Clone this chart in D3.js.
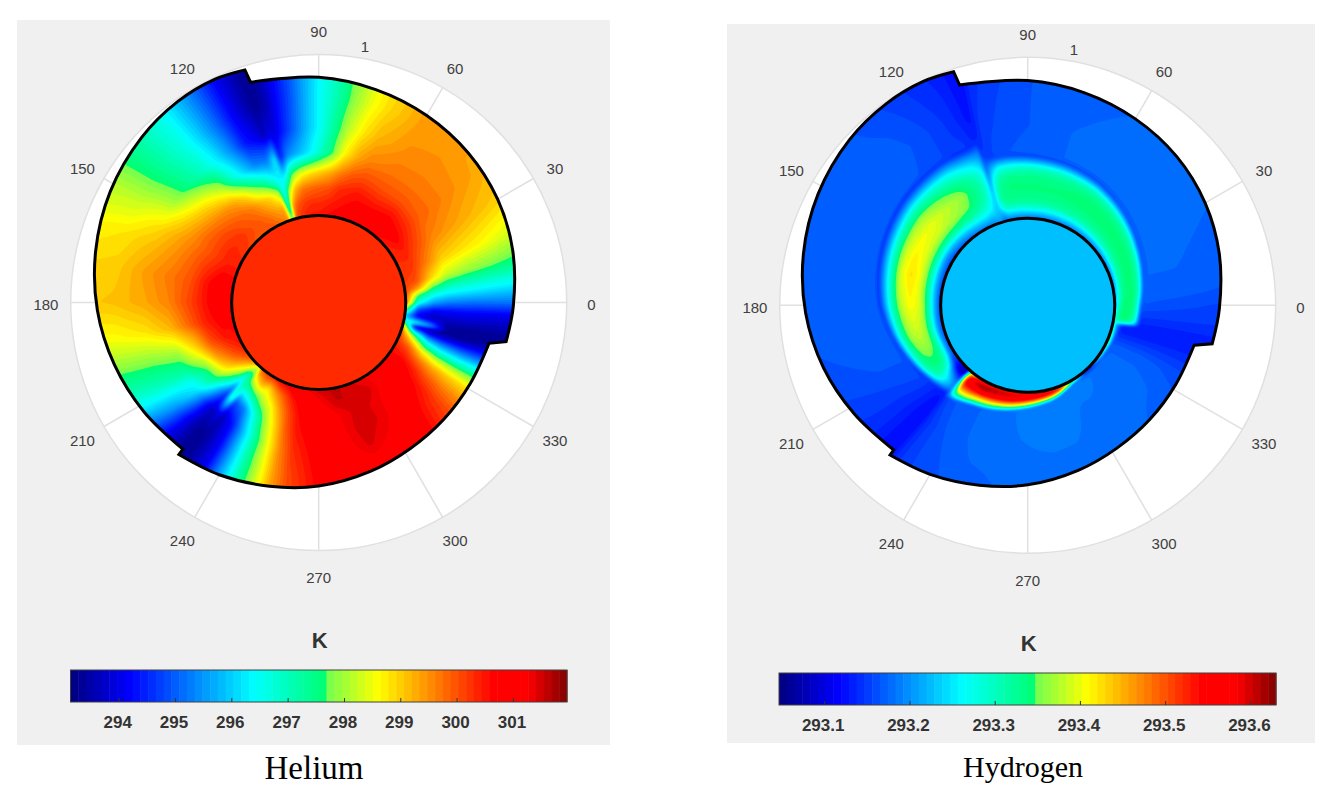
<!DOCTYPE html>
<html lang="en">
<head>
<meta charset="utf-8">
<title>Helium / Hydrogen temperature</title>
<style>
  html, body { margin: 0; background: #fff; }
  svg { display: block; }
  text { font-family: "Liberation Sans", Arial, sans-serif; }
</style>
</head>
<body>
<div id="chart"></div>
<script src="https://d3js.org/d3.v7.min.js"></script>
<script>
////////////////////////////////////////////////// DATA
// radius is in units of the polar axis (outer circle = 1), angles in degrees
var angleTicks = [0, 30, 60, 90, 120, 150, 180, 210, 240, 270, 300, 330];
var discRadius = 0.351;

// jet-like colormap of the colorbar, as seen in the picture
var mapStops = [0, 0.12, 0.37, 0.515, 0.5151, 0.62, 0.85, 0.92, 1];
var mapColors = ["#00007f", "#0000ff", "#00ffff", "#00ff70", "#70ff50", "#ffff00", "#ff0000", "#ff0000", "#7f0000"];

// outline of the domain, one list per 120 degree sector (A, B, C)
var heliumEdgeA = [[107.2,.93],[90,.908],[75,.889],[60,.871],[45,.853],[30,.833],[15,.81],[-1,.785],[-11.8,.772]];
var heliumEdgeB = [[-13.5,.706],[-28,.693],[-43,.69],[-58,.695],[-73,.712],[-90,.74],[-105,.767],[-120,.802],[-132.6,.833]];
var heliumEdgeC = [[227.2,.806],[212,.831],[197,.861],[182,.893],[167,.923],[152,.952],[137,.976],[125,.990],[115,.993],[107.6,.984]];

var hydrogenEdgeA = [[107.2,.93],[90,.906],[75,.887],[60,.868],[45,.849],[30,.826],[15,.80],[-1,.773],[-11.8,.76]];
var hydrogenEdgeB = [[-13.5,.69],[-28,.677],[-43,.674],[-58,.679],[-73,.696],[-90,.724],[-105,.751],[-120,.787],[-132.6,.82]];
var hydrogenEdgeC = [[227.2,.795],[212,.825],[197,.861],[182,.896],[167,.928],[152,.957],[137,.981],[125,.993],[115,.996],[107.6,.988]];

// inner ring seen in the hydrogen field
var ringAngles = [227,215,200,180,160,140,120,108,107,90,75,60,45,30,15,0,-11,-12,-30,-45,-60,-75,-90,-105,-120,-132];
var ringRadii = [.480,.504,.544,.597,.629,.657,.673,.673,.617,.605,.593,.573,.544,.512,.484,.460,.452,.387,.371,.367,.367,.40,.415,.44,.464,.496];

// Helium temperature (K): rows = heliumAngles, columns = heliumRadii
var heliumRadii = [.351,.403,.464,.524,.605,.706,.827,1.01];
var heliumTicks = [294,295,296,297,298,299,300,301];
var heliumRange = [293.145,301.96];
var heliumDisc = 300.3;
var heliumAngles = [227,225,222,219,216,212,208,204,200,195,190,180,170,160,155,150,145,140,135,130,125,120,115,110,108,
  107,105,102,98,94,90,85,80,75,70,60,50,40,30,20,12,8,4,0,-4,-8,-11,
  -12,-14,-16,-19,-22,-26,-30,-35,-40,-50,-60,-70,-80,-90,-100,-105,-110,-115,-120,-125,-130,-132];
var heliumValues = [
  [298.5,297.3,296.8,296.5,293.8,293.3,293.3,293.3],
  [299.2,297.2,295.8,294.6,293.7,293.5,293.5,293.5],
  [299.6,298.4,297,295.6,294.4,294,293.9,293.9],
  [300,299,297.9,296.6,295.4,294.8,294.5,294.4],
  [300.2,299.5,298.6,297.4,296.2,295.6,295.2,295.2],
  [300.4,299.9,299,297.6,296.5,296.3,296.1,296],
  [300.5,300.1,299.4,298,297.2,297,296.8,296.7],
  [300.6,300.3,299.7,298.6,297.6,297.4,297.3,297.2],
  [300.6,300.5,300,299,298,297.8,297.7,297.6],
  [300.6,300.6,300.2,299.4,298.6,298.3,298.2,298.1],
  [300.7,300.7,300.4,299.9,299.2,298.8,298.6,298.5],
  [300.8,300.9,300.5,300.1,299.6,299.3,299.1,299],
  [300.7,300.9,300.5,300,299.7,299.4,299,298.9],
  [300.5,300.5,300.2,299.9,299.5,299.1,298.8,298.6],
  [300.4,300.4,300.1,299.8,299.4,298.9,298.5,298.3],
  [300.3,300.4,300.1,299.8,299.2,298.5,298.2,298.1],
  [300.2,300.3,300.1,299.7,299,298,297.8,297.7],
  [300.1,300.3,300,299.6,298.8,297.6,297.4,297.3],
  [300,300.1,299.9,299.5,298.5,297.2,297,296.9],
  [300,300,299.8,299.3,298,296.8,296.6,296.5],
  [300,299.9,299.6,298.8,296.9,296.2,295.9,295.8],
  [300,299.7,299.2,298,296.1,295.4,295.1,295],
  [299.8,299.4,298.9,297.4,295.4,294.4,294.2,294.1],
  [299.6,299.3,298.2,296.6,295.3,294,293.5,293.4],
  [298,297.2,296.6,296.3,296,293.6,293.3,293.3],
  [297,296.8,296.5,296.3,296.2,294,293.4,293.3],
  [300,299.4,298,296.3,294.4,293.9,293.6,293.5],
  [300.2,300,299.2,297.8,295.4,294.4,294.2,294.1],
  [300.4,300.2,299.7,298.5,295.8,295.1,294.9,294.8],
  [300.5,300.3,299.8,298.8,296.2,295.8,295.7,295.6],
  [300.5,300.3,299.9,299,296.8,296.4,296.4,296.3],
  [300.6,300.4,300,299.3,297.6,297.3,297.1,297],
  [300.7,300.5,300.3,299.7,298.7,298.2,297.9,297.8],
  [300.8,300.6,300.4,300,299.3,298.8,298.5,298.4],
  [300.6,300.7,300.5,300.1,299.6,299.2,298.9,298.8],
  [300.6,300.8,300.4,300,299.7,299.5,299.4,299.4],
  [300.6,300.9,300.5,300,299.7,299.55,299.4,299.4],
  [300.4,300.7,300.3,299.9,299.7,299.5,299.3,299.2],
  [300.3,300.4,300,299.6,299.4,299.2,299,298.9],
  [300.3,300.2,299.6,299,298.8,298.6,298.3,298.2],
  [300.2,300,298.9,298.2,297.9,297.7,297.5,297.4],
  [300.2,299.4,297.8,297.2,297,296.9,296.8,296.7],
  [300,297.6,296.6,296.3,296.2,296.1,296,296],
  [299.8,296.6,295.6,295.3,295.2,295.2,295.2,295.1],
  [298,294.8,294.2,294.2,294.2,294.1,294.1,294.1],
  [296,294,293.6,293.7,293.7,293.6,293.6,293.6],
  [296.4,296,295,293.4,293.3,293.3,293.4,293.5],
  [297,296.5,295.5,293.5,293.3,293.4,293.4,293.4],
  [298.5,293.8,293.4,293.3,293.3,293.4,293.6,293.6],
  [299.5,295.5,294.2,293.9,293.8,293.9,294,294],
  [300,297.8,295.8,295.3,295,294.9,294.9,294.9],
  [300.2,298.9,297.2,296.5,296.2,296.1,296,296],
  [300.3,299.9,298.8,298.2,297.9,297.7,297.6,297.6],
  [300.5,300.3,299.7,299.3,299,298.8,298.7,298.7],
  [300.6,300.7,300.4,300,299.7,299.5,299.4,299.4],
  [300.7,301,300.7,300.5,300.2,300,299.9,299.9],
  [301,301.1,301.05,300.95,300.8,300.7,300.6,300.6],
  [301.3,301.45,301.35,301.35,301.2,300.95,300.8,300.8],
  [301.45,301.55,301.5,301.55,301.45,301.05,300.9,300.9],
  [301.6,301.55,301.25,301.2,301.1,300.9,300.8,300.8],
  [301.5,301.2,300.9,300.9,300.8,300.7,300.7,300.7],
  [301.2,300.8,300.6,300.5,300.3,300.1,300,300],
  [301,300.5,300.1,299.9,299.6,299.4,299.3,299.2],
  [300.8,300,299.4,298.9,298.5,298.3,298.2,298.2],
  [300.7,299.5,298.5,297.9,297.3,297.2,297.1,297.1],
  [300.4,298.8,298,296.6,295.9,295.7,295.6,295.6],
  [300.3,299.2,297.2,295.3,294.4,294.1,294,294],
  [300,298.4,296.6,294.8,293.6,293.4,293.4,293.4],
  [298.5,297.4,297,296.6,294,293.3,293.3,293.3]
];

// Hydrogen temperature (K): columns run disc -> ring (0..1) and ring -> outline (1..2)
var hydrogenRows = [0,.1,.22,.35,.5,.65,.8,.92,1,1.03,1.4,2];
var hydrogenTicks = [293.1,293.2,293.3,293.4,293.5,293.6];
var hydrogenRange = [293.047,293.63];
var hydrogenDisc = 293.226;
var hydrogenAngles = [227,224,221,217,212,205,195,180,165,150,140,130,122,116,112,109,108,
  107,105,102,98,90,75,60,45,30,15,5,0,-5,-9,-11,
  -12,-16,-25,-35,-45,-50,-56,-62,-70,-80,-90,-100,-110,-118,-124,-129,-131,-132];
var hydrogenValues = [
  [293.1,293.07,293.09,293.13,293.17,293.19,293.19,293.17,293.14,293.13,293.12,293.12],
  [293.12,293.07,293.1,293.15,293.2,293.23,293.22,293.18,293.14,293.13,293.125,293.125],
  [293.14,293.1,293.13,293.19,293.25,293.27,293.25,293.19,293.14,293.14,293.135,293.135],
  [293.15,293.14,293.2,293.28,293.31,293.32,293.29,293.21,293.14,293.15,293.145,293.145],
  [293.16,293.18,293.27,293.33,293.34,293.335,293.31,293.22,293.14,293.16,293.155,293.15],
  [293.16,293.2,293.3,293.345,293.355,293.35,293.31,293.22,293.14,293.165,293.165,293.16],
  [293.16,293.2,293.3,293.365,293.385,293.37,293.32,293.22,293.14,293.17,293.17,293.165],
  [293.15,293.22,293.33,293.395,293.41,293.38,293.3,293.2,293.14,293.17,293.172,293.17],
  [293.15,293.22,293.33,293.4,293.425,293.395,293.3,293.2,293.14,293.17,293.172,293.17],
  [293.15,293.21,293.33,293.39,293.41,293.38,293.3,293.2,293.14,293.17,293.172,293.17],
  [293.16,293.22,293.33,293.385,293.4,293.37,293.3,293.2,293.14,293.17,293.172,293.17],
  [293.17,293.23,293.33,293.37,293.38,293.35,293.29,293.2,293.14,293.165,293.17,293.16],
  [293.18,293.24,293.32,293.355,293.365,293.335,293.28,293.2,293.14,293.16,293.16,293.15],
  [293.18,293.24,293.3,293.33,293.335,293.32,293.26,293.19,293.14,293.15,293.15,293.14],
  [293.19,293.23,293.28,293.31,293.315,293.3,293.25,293.19,293.14,293.15,293.14,293.135],
  [293.2,293.23,293.25,293.27,293.28,293.27,293.23,293.19,293.15,293.14,293.13,293.125],
  [293.21,293.225,293.235,293.24,293.24,293.23,293.21,293.19,293.17,293.14,293.125,293.12],
  [293.2,293.22,293.23,293.23,293.22,293.2,293.18,293.17,293.16,293.15,293.13,293.12],
  [293.17,293.21,293.27,293.3,293.3,293.28,293.23,293.18,293.15,293.15,293.15,293.14],
  [293.18,293.24,293.31,293.335,293.335,293.32,293.28,293.2,293.15,293.16,293.155,293.15],
  [293.18,293.24,293.31,293.335,293.34,293.335,293.29,293.21,293.15,293.165,293.16,293.155],
  [293.18,293.24,293.31,293.335,293.34,293.335,293.3,293.21,293.15,293.17,293.165,293.165],
  [293.18,293.24,293.31,293.335,293.34,293.335,293.3,293.21,293.15,293.175,293.175,293.17],
  [293.18,293.24,293.31,293.335,293.345,293.34,293.31,293.22,293.15,293.175,293.18,293.175],
  [293.18,293.24,293.31,293.335,293.345,293.34,293.31,293.22,293.15,293.175,293.18,293.175],
  [293.18,293.24,293.31,293.335,293.345,293.34,293.31,293.22,293.15,293.175,293.178,293.175],
  [293.18,293.24,293.31,293.335,293.345,293.34,293.31,293.22,293.15,293.175,293.175,293.17],
  [293.19,293.26,293.31,293.34,293.345,293.34,293.31,293.22,293.16,293.17,293.17,293.165],
  [293.2,293.27,293.32,293.345,293.345,293.34,293.3,293.22,293.16,293.165,293.16,293.155],
  [293.22,293.3,293.34,293.345,293.345,293.335,293.3,293.22,293.15,293.15,293.15,293.15],
  [293.26,293.3,293.33,293.34,293.34,293.32,293.28,293.22,293.15,293.14,293.14,293.14],
  [293.3,293.28,293.26,293.25,293.24,293.22,293.2,293.17,293.14,293.13,293.13,293.135],
  [293.32,293.3,293.26,293.22,293.2,293.18,293.16,293.15,293.14,293.13,293.13,293.13],
  [293.34,293.33,293.3,293.25,293.21,293.18,293.16,293.15,293.14,293.135,293.135,293.135],
  [293.34,293.35,293.34,293.3,293.25,293.21,293.17,293.16,293.16,293.17,293.17,293.16],
  [293.3,293.31,293.29,293.26,293.22,293.19,293.17,293.165,293.165,293.18,293.18,293.17],
  [293.2,293.18,293.12,293.09,293.12,293.15,293.17,293.17,293.17,293.18,293.18,293.175],
  [293.17,293.14,293.12,293.12,293.14,293.16,293.17,293.17,293.17,293.185,293.18,293.175],
  [293.25,293.3,293.3,293.28,293.25,293.22,293.19,293.17,293.17,293.19,293.18,293.175],
  [293.35,293.42,293.45,293.42,293.35,293.28,293.22,293.18,293.17,293.19,293.18,293.175],
  [293.45,293.53,293.55,293.53,293.45,293.37,293.28,293.2,293.17,293.19,293.19,293.175],
  [293.5,293.57,293.58,293.56,293.5,293.4,293.3,293.22,293.17,293.19,293.19,293.175],
  [293.53,293.58,293.59,293.57,293.54,293.43,293.37,293.27,293.18,293.19,293.185,293.175],
  [293.54,293.59,293.6,293.58,293.55,293.45,293.36,293.26,293.17,293.18,293.18,293.175],
  [293.55,293.6,293.61,293.59,293.54,293.45,293.36,293.26,293.17,293.18,293.18,293.17],
  [293.5,293.6,293.62,293.6,293.54,293.44,293.35,293.25,293.16,293.17,293.17,293.165],
  [293.45,293.58,293.6,293.57,293.52,293.44,293.35,293.25,293.16,293.17,293.165,293.16],
  [293.35,293.5,293.55,293.55,293.5,293.42,293.33,293.24,293.16,293.16,293.15,293.15],
  [293.2,293.28,293.34,293.36,293.32,293.3,293.26,293.2,293.15,293.15,293.14,293.14],
  [293.12,293.15,293.2,293.22,293.22,293.2,293.18,293.17,293.15,293.14,293.13,293.13]
];

////////////////////////////////////////////////// SETUP
var width = 1336, height = 797;
var levels = 64;
var outerPx = 248;

var svg = d3.select("#chart").append("svg")
    .attr("width", width)
    .attr("height", height);

var rad = d3.scaleLinear().domain([0, 360]).range([0, 2 * Math.PI]);
var rScale = d3.scaleLinear().domain([0, 1]).range([0, outerPx]);
var jet = d3.scaleLinear().domain(mapStops).range(mapColors);

function fraction(i, n) { return (i + 0.5) / n; }

function wrapAngle(a) { return a < -132.5 ? a + 360 : a; }

////////////////////////////////////////////////// FUNCTIONS
function edgeLookup(edges) {
    var all = edges[2].concat(edges[0], edges[1]);
    return d3.scaleLinear().domain(all.map(d => d[0])).range(all.map(d => d[1]));
}

function outlinePath(edges) {
    var line = d3.lineRadial()
        .angle(d => Math.PI / 2 - rad(d[0]))
        .radius(d => rScale(d[1]))
        .curve(d3.curveCatmullRom);
    // sectors are joined by the short steps of the outline
    return edges.map((e, i) => i ? line(e).replace("M", "L") : line(e)).join("") + "Z";
}

function heliumField(angles, radii, values) {
    var ai = d3.scaleLinear().domain(angles).range(d3.range(angles.length)).clamp(true);
    var ri = d3.scaleLinear().domain(radii).range(d3.range(radii.length)).clamp(true);
    return function(a, r) { return bilinear(values, ai(a), ri(r)); };
}

function hydrogenField(angles, rows, values, edges) {
    var ai = d3.scaleLinear().domain(angles).range(d3.range(angles.length)).clamp(true);
    var ri = d3.scaleLinear().domain(rows).range(d3.range(rows.length)).clamp(true);
    var ring = d3.scaleLinear().domain(ringAngles).range(ringRadii).clamp(true);
    var edge = edgeLookup(edges).clamp(true);
    return function(a, r) {
        var g = ring(a), s;
        if (r < g) s = (r - discRadius) / (g - discRadius);
        else s = 1 + (r - g) / (edge(a) - g);
        return bilinear(values, ai(a), ri(s));
    };
}

function bilinear(m, y, x) {
    var i = Math.min(Math.floor(y), m.length - 2), j = Math.min(Math.floor(x), m[0].length - 2);
    var v = y - i, u = x - j;
    return (m[i][j] * (1 - u) + m[i][j + 1] * u) * (1 - v) + (m[i + 1][j] * (1 - u) + m[i + 1][j + 1] * u) * v;
}

function drawPanel(p) {
    var g = svg.append("g");
    var colorAt = d3.scaleLinear().domain(p.range).range([0, 1]);
    var color = v => jet(colorAt(v));

    g.append("rect")
        .attr("x", p.box[0]).attr("y", p.box[1])
        .attr("width", p.box[2]).attr("height", p.box[3])
        .attr("fill", "#f0f0f0");

    var polar = g.append("g").attr("transform", "translate(" + p.cx + "," + p.cy + ")");

    polar.append("circle")
        .attr("r", rScale(1))
        .attr("fill", "#fff")
        .attr("stroke", "#e0e0e0")
        .attr("stroke-width", 1.5);

    polar.selectAll(".spoke")
        .data(angleTicks)
        .join("line")
        .attr("class", "spoke")
        .attr("x2", d => rScale(1) * Math.cos(rad(d)))
        .attr("y2", d => -rScale(1) * Math.sin(rad(d)))
        .attr("stroke", "#e0e0e0")
        .attr("stroke-width", 1.5);

    polar.selectAll(".angle")
        .data(angleTicks)
        .join("text")
        .attr("class", "angle")
        .attr("x", d => rScale(1.1) * Math.cos(rad(d)))
        .attr("y", d => -rScale(1.1) * Math.sin(rad(d)))
        .attr("dy", "0.5em")
        .attr("text-anchor", "middle")
        .attr("font-size", 15)
        .attr("fill", "#404040")
        .text(d => d);

    polar.append("text")
        .attr("x", rScale(1.052) * Math.cos(rad(79.8)))
        .attr("y", -rScale(1.052) * Math.sin(rad(79.8)))
        .attr("dy", "0.4em")
        .attr("text-anchor", "middle")
        .attr("font-size", 15)
        .attr("fill", "#404040")
        .text("1");

    // filled contours of the temperature field
    var size = 2 * outerPx + 4, half = size / 2;
    var grid = new Float64Array(size * size);
    for (var j = 0; j < size; j++) {
        for (var i = 0; i < size; i++) {
            var dx = i + 0.5 - half, dy = half - j - 0.5;
            var a = wrapAngle(Math.atan2(dy, dx) * 180 / Math.PI);
            var r = rScale.invert(Math.sqrt(dx * dx + dy * dy));
            grid[j * size + i] = p.field(a, r);
        }
    }
    // takes the corners off the bilinear cells
    if (d3.blur2) d3.blur2({data: grid, width: size, height: size}, p.blur);

    var step = (p.range[1] - p.range[0]) / levels;
    var thresholds = d3.range(levels).map(k => p.range[0] + k * step);
    var contours = d3.contours().size([size, size]).thresholds(thresholds)(grid);

    var id = "clip" + p.name;
    var outline = outlinePath(p.edges);
    polar.append("clipPath").attr("id", id).append("path").attr("d", outline);

    var field = polar.append("g")
        .attr("clip-path", "url(#" + id + ")")
        .append("g")
        .attr("transform", "translate(" + (-half) + "," + (-half) + ")");

    field.append("rect").attr("width", size).attr("height", size).attr("fill", jet(0));

    field.selectAll("path")
        .data(contours)
        .join("path")
        .attr("d", d3.geoPath())
        .attr("fill", (d, i) => jet(fraction(i, levels)));

    polar.append("path")
        .attr("d", outline)
        .attr("fill", "none")
        .attr("stroke", "#000")
        .attr("stroke-width", 3)
        .attr("stroke-linejoin", "miter");

    polar.append("circle")
        .attr("r", rScale(discRadius))
        .attr("fill", color(p.disc))
        .attr("stroke", "#000")
        .attr("stroke-width", 3);

    // colorbar
    var x = d3.scaleLinear().domain(p.range).range([p.bar[0], p.bar[0] + p.bar[2]]);
    g.selectAll(".bin")
        .data(thresholds)
        .join("rect")
        .attr("class", "bin")
        .attr("x", d => x(d))
        .attr("y", p.bar[1])
        .attr("width", x(p.range[0] + step) - x(p.range[0]) + 0.5)
        .attr("height", p.bar[3])
        .attr("fill", (d, i) => jet(fraction(i, levels)));

    g.append("rect")
        .attr("x", p.bar[0]).attr("y", p.bar[1])
        .attr("width", p.bar[2]).attr("height", p.bar[3])
        .attr("fill", "none")
        .attr("stroke", "#404040")
        .attr("stroke-width", 1);

    var axis = g.append("g")
        .attr("transform", "translate(0," + (p.bar[1] + p.bar[3]) + ")")
        .call(d3.axisBottom(x).tickValues(p.ticks).tickSize(-4).tickPadding(14).tickFormat(d3.format(p.format)));
    axis.select(".domain").remove();
    axis.selectAll("line").attr("stroke", "#333");
    axis.selectAll("text")
        .attr("dx", -1.5)
        .attr("font-family", '"Liberation Sans", Arial, sans-serif')
        .attr("font-size", 17)
        .attr("font-weight", "bold")
        .attr("fill", "#333");

    g.append("text")
        .attr("x", p.cx + 1)
        .attr("y", p.bar[1] - 22)
        .attr("text-anchor", "middle")
        .attr("font-size", 22)
        .attr("font-weight", "bold")
        .attr("fill", "#333")
        .text("K");

    g.append("text")
        .attr("x", p.captionX)
        .attr("y", p.captionY)
        .attr("text-anchor", "middle")
        .attr("font-size", p.captionSize)
        .attr("fill", "#000")
        .style("font-family", '"Liberation Serif", "Times New Roman", serif')
        .text(p.name);
}

////////////////////////////////////////////////// DRAW
var heliumEdges = [heliumEdgeA, heliumEdgeB, heliumEdgeC];
var hydrogenEdges = [hydrogenEdgeA, hydrogenEdgeB, hydrogenEdgeC];

drawPanel({
    name: "Helium",
    box: [17, 20, 593, 725],
    cx: 318.7, cy: 302.5,
    bar: [70.5, 670, 496.5, 32],
    captionX: 314,
    captionY: 779,
    captionSize: 33,
    blur: 1,
    range: heliumRange,
    ticks: heliumTicks,
    format: "d",
    disc: heliumDisc,
    edges: heliumEdges,
    field: heliumField(heliumAngles, heliumRadii, heliumValues)
});

drawPanel({
    name: "Hydrogen",
    box: [727, 24, 588, 719],
    cx: 1027.7, cy: 305.3,
    bar: [779, 673, 497, 32],
    captionX: 1023,
    captionY: 777,
    captionSize: 30,
    blur: 1,
    range: hydrogenRange,
    ticks: hydrogenTicks,
    format: ".1f",
    disc: hydrogenDisc,
    edges: hydrogenEdges,
    field: hydrogenField(hydrogenAngles, hydrogenRows, hydrogenValues, hydrogenEdges)
});
</script>
</body>
</html>
